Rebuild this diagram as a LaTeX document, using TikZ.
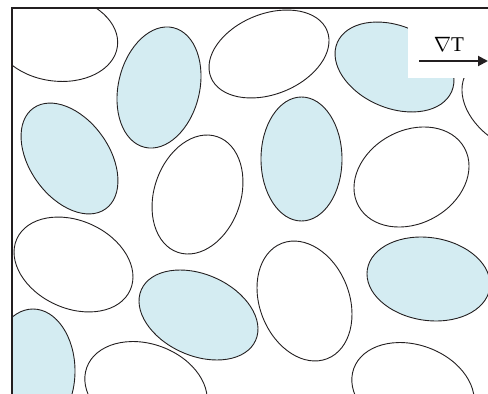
\documentclass[tikz,border=0pt]{standalone}
\usepackage{fontspec}
\setmainfont{Liberation Serif}
\usetikzlibrary{arrows.meta}
\definecolor{grainblue}{RGB}{212,236,242}
\definecolor{inkline}{RGB}{35,31,32}

\begin{document}
\begin{tikzpicture}[x=1pt, y=-1pt, >={Triangle[length=10pt, width=10pt]}, grain/.style={draw=inkline, line width=0.9pt}, lab/.style={font=\fontsize{21}{24}\selectfont, inner sep=0pt}]
	\useasboundingbox (0,0) rectangle (488,394);
	\begin{scope}
		\clip (12,8) rectangle (488,394);
		% grains: x/y/major/minor/angle/fill
		\foreach \x/\y/\a/\b/\r/\c in {56/38/62/43/-8/white, 159/87.5/61.5/40.6/76.5/grainblue, 69.5/158.5/62/39.7/125.7/grainblue,
			269/54/62.6/40.2/21.8/white, 394.5/67/62.2/41.1/-23/grainblue, 520/104/62/44/-30/white,
			301.5/159/62/40.5/90/grainblue, 411.5/177/60.4/46.5/28.6/white, 197.5/194.5/61.1/43.3/71.2/white,
			73.5/264.5/62.2/43.8/-24.4/white, 198.5/315/62.5/40.7/-23.85/grainblue, 304.5/301/62/44.8/111.6/white,
			428.5/279/61.9/41.4/-8.7/grainblue, 413/390/63/45/-20/white, 146/389/63/45/-20/white, 33/371/62/42/90/grainblue}
			{\draw[grain, fill=\c, rotate around={\r:(\x,\y)}] (\x,\y) ellipse (\a pt and \b pt);}
		\fill[white] (408,9) rectangle (488,78);
	\end{scope}
	\draw[inkline, line width=1.2pt] (12,394) -- (12,8) -- (488,8);
	\node[lab, anchor=base] (grad) at (449,51) {$\nabla$T};
	\coordinate (gstart) at (419,61);
	\coordinate (gend) at (488,61);
	\draw[->, inkline, line width=2pt] (gstart) -- (gend);
\end{tikzpicture}
\end{document}
